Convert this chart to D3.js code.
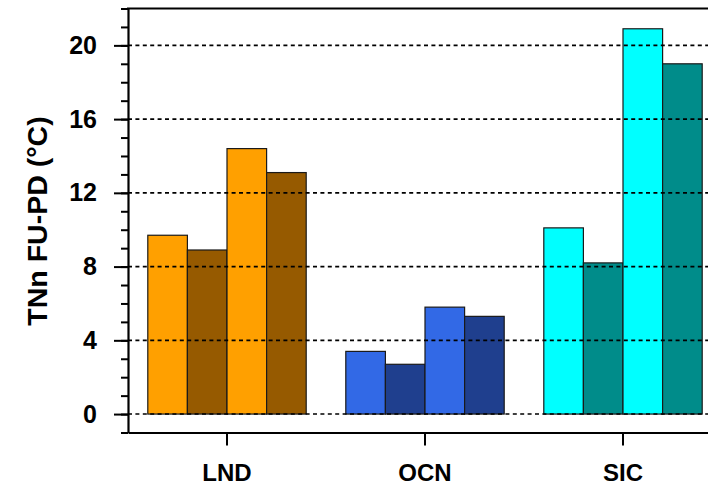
<!DOCTYPE html>
<html lang="en">

<head>
    <meta charset="UTF-8">
    <script src="https://cdnjs.cloudflare.com/ajax/libs/d3/7.8.5/d3.min.js"></script>
    <title>TNn FU-PD</title>
    <style>
        body { margin: 0; background: #fff; }
        svg text { font-family: "Liberation Sans", Arial, Helvetica, sans-serif; font-weight: bold; fill: #000; }
    </style>
</head>

<body>
    <script>
        // 数据
        var categories = ["LND", "OCN", "SIC"];
        var bar1 = [9.7, 3.4, 10.1];
        var bar2 = [8.9, 2.7, 8.2];
        var bar3 = [14.4, 5.8, 20.9];
        var bar4 = [13.1, 5.3, 19.0];
        var yTicks = [0, 4, 8, 12, 16, 20];
        var lightColors = ["#FFA000", "#3269E6", "#00FFFF"];
        var darkColors = ["#965A00", "#1F3F8E", "#008C8A"];

        var series = [bar1, bar2, bar3, bar4];

        var width = 708, height = 485;
        // 注意: 不能用 top 做全局变量名 (window.top)
        var plotLeft = 128, plotRight = 722, plotTop = 8.5, plotBottom = 432.5;

        var svg = d3.select("body").append("svg")
            .attr("width", width)
            .attr("height", height);

        var x = d3.scaleBand().domain(categories).range([plotLeft, plotRight]);
        var xInner = d3.scaleBand().domain(d3.range(series.length))
            .range([0, x.bandwidth()])
            .paddingInner(0).paddingOuter(0.5);
        var y = d3.scaleLinear().domain([-1, 22]).range([plotBottom, plotTop]);

        // 柱子
        var rows = [];
        categories.forEach(function (c, ci) {
            series.forEach(function (s, si) {
                rows.push({ cat: c, ci: ci, si: si, value: s[ci] });
            });
        });

        svg.append("g").selectAll("rect")
            .data(rows)
            .enter().append("rect")
            .attr("x", function (d) { return x(d.cat) + xInner(d.si); })
            .attr("width", xInner.bandwidth())
            .attr("y", function (d) { return y(d.value); })
            .attr("height", function (d) { return y(0) - y(d.value); })
            .attr("fill", function (d) { return d.si % 2 === 0 ? lightColors[d.ci] : darkColors[d.ci]; })
            .attr("stroke", "#1a1a1a")
            .attr("stroke-width", 1.2);

        // 虚线网格（在柱子上面）
        svg.append("g").selectAll("line")
            .data(yTicks)
            .enter().append("line")
            .attr("x1", plotLeft).attr("x2", plotRight)
            .attr("y1", function (d) { return y(d); })
            .attr("y2", function (d) { return y(d); })
            .attr("stroke", "#000")
            .attr("stroke-width", 1.6)
            .attr("stroke-dasharray", "4,3.4");

        // 次刻度
        svg.append("g")
            .attr("transform", "translate(" + plotLeft + ",0)")
            .call(d3.axisLeft(y).tickValues(d3.range(-1, 23)).tickSize(7).tickFormat(""))
            .call(function (g) { g.select(".domain").remove(); })
            .selectAll("line").attr("stroke-width", 2);

        // 主刻度
        var yAxis = svg.append("g")
            .attr("transform", "translate(" + plotLeft + ",0)")
            .call(d3.axisLeft(y).tickValues(yTicks).tickSize(14).tickSizeOuter(0).tickPadding(17));
        yAxis.select(".domain").attr("stroke-width", 2.2);
        yAxis.selectAll("line").attr("stroke-width", 2);
        yAxis.selectAll("text").attr("font-size", 25);

        var xAxis = svg.append("g")
            .attr("transform", "translate(0," + plotBottom + ")")
            .call(d3.axisBottom(x).tickSize(13).tickSizeOuter(0).tickPadding(18));
        xAxis.select(".domain").attr("stroke-width", 2.2);
        xAxis.selectAll("line").attr("stroke-width", 2);
        xAxis.selectAll("text").attr("font-size", 24);

        // 上边框
        svg.append("line")
            .attr("x1", plotLeft - 1).attr("x2", plotRight)
            .attr("y1", plotTop).attr("y2", plotTop)
            .attr("stroke", "#000").attr("stroke-width", 2.2);

        // y轴标题
        svg.append("text")
            .attr("transform", "translate(47,221) rotate(-90)")
            .attr("text-anchor", "middle")
            .attr("font-size", 28.5)
            .text("TNn FU-PD (°C)");
    </script>
</body>

</html>
